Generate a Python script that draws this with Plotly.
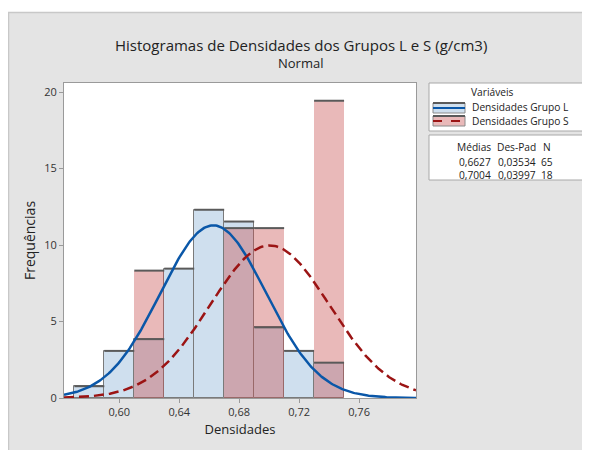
import plotly.graph_objects as go
import numpy as np

# ---- data ----
bin_centers = [0.58, 0.60, 0.62, 0.64, 0.66, 0.68, 0.70, 0.72, 0.74]
bin_width = 0.02
grupo_L = [0.77, 3.08, 3.85, 8.46, 12.31, 11.54, 4.62, 3.08, 2.31]
grupo_S = [0.0, 0.0, 8.33, 0.0, 0.0, 11.11, 11.11, 0.0, 19.44]
mean_L, sd_L, n_L = 0.6627, 0.03534, 65
mean_S, sd_S, n_S = 0.7004, 0.03997, 18
x_ticks = [0.60, 0.64, 0.68, 0.72, 0.76]
x_tick_labels = ["0,60", "0,64", "0,68", "0,72", "0,76"]
y_ticks = [0, 5, 10, 15, 20]

# ---- geometry (page has an 8px body margin) ----
OFF = 8
W, H = 590 - OFF, 450 - OFF
ML, MT = 64 - OFF, 83 - OFF
PW, PH = 352, 315
MR, MB = W - ML - PW, H - MT - PH
XR = [0.5631, 0.798]
YR = [0, 20.6]

def px(x):
    # x given in window pixels
    return (x - OFF - ML) / PW

def py(y):
    return 1 + (MT - (y - OFF)) / PH

BLUE_FILL = "#cfdfee"
RED_FILL = "rgba(200,80,80,0.40)"
BLUE_LINE = "#0a57a8"
RED_LINE = "#9b1414"
EDGE = "#5a5a5a"
FONT = "Open Sans"
LEG = 10.2

fig = go.Figure()

fig.add_trace(go.Bar(x=bin_centers, y=grupo_L, width=bin_width,
                     marker=dict(color=BLUE_FILL, line=dict(color="#7a7a7a", width=1)),
                     name="Densidades Grupo L", hoverinfo="skip"))
fig.add_trace(go.Bar(x=bin_centers, y=grupo_S, width=bin_width,
                     marker=dict(color=RED_FILL, line=dict(width=0)),
                     name="Densidades Grupo S", hoverinfo="skip"))

# top edges of bars
for vals in (grupo_L, grupo_S):
    tx, ty = [], []
    for c, v in zip(bin_centers, vals):
        if v > 0:
            tx += [c - bin_width / 2, c + bin_width / 2, None]
            ty += [v, v, None]
    fig.add_trace(go.Scatter(x=tx, y=ty, mode="lines",
                             line=dict(color=EDGE, width=2),
                             hoverinfo="skip", showlegend=False))

# fitted normal curves
xs = np.linspace(XR[0], XR[1], 300)

def normal_pdf(x, m, s):
    return np.exp(-0.5 * ((x - m) / s) ** 2) / (s * np.sqrt(2 * np.pi))

fig.add_trace(go.Scatter(x=xs, y=normal_pdf(xs, mean_L, sd_L), mode="lines",
                         line=dict(color=BLUE_LINE, width=2.5),
                         hoverinfo="skip", showlegend=False))
fig.add_trace(go.Scatter(x=xs, y=normal_pdf(xs, mean_S, sd_S), mode="lines",
                         line=dict(color=RED_LINE, width=2.5, dash="10px,5px"),
                         hoverinfo="skip", showlegend=False))

shapes = []
ann = []

# white strip at top of the gray panel and light border
shapes.append(dict(type="rect", xref="paper", yref="paper", x0=px(0), x1=px(600), y0=py(0), y1=py(12),
                   fillcolor="white", line=dict(width=0), layer="above"))
shapes.append(dict(type="line", xref="paper", yref="paper", x0=px(8), x1=px(600), y0=py(12.5), y1=py(12.5),
                   line=dict(color="#c8c8c8", width=1.5), layer="above"))
shapes.append(dict(type="line", xref="paper", yref="paper", x0=px(8.5), x1=px(8.5), y0=py(12.5), y1=py(460),
                   line=dict(color="#c8c8c8", width=1.5), layer="above"))

# legend boxes
shapes.append(dict(type="rect", xref="paper", yref="paper", x0=px(429), x1=px(583), y0=py(83), y1=py(131),
                   fillcolor="white", line=dict(color="#a8a8a8", width=1)))
shapes.append(dict(type="rect", xref="paper", yref="paper", x0=px(429), x1=px(583), y0=py(135), y1=py(180),
                   fillcolor="white", line=dict(color="#a8a8a8", width=1)))
# legend symbols
for (yc, fill, lc, dash) in ((108, BLUE_FILL, BLUE_LINE, "solid"), (121, "#e9b9b9", RED_LINE, "dash")):
    shapes.append(dict(type="rect", xref="paper", yref="paper", x0=px(433), x1=px(465), y0=py(yc - 5), y1=py(yc + 5),
                       fillcolor=fill, line=dict(color="#8a8a8a", width=1)))
    shapes.append(dict(type="line", xref="paper", yref="paper", x0=px(433), x1=px(465), y0=py(yc - 5), y1=py(yc - 5),
                       line=dict(color=EDGE, width=2)))
    shapes.append(dict(type="line", xref="paper", yref="paper", x0=px(433), x1=px(465), y0=py(yc), y1=py(yc),
                       line=dict(color=lc, width=2, dash=dash)))

def text(x, y, s, size=LEG, xanchor="left", color="#222"):
    ann.append(dict(x=px(x), y=py(y), xref="paper", yref="paper", text=s, showarrow=False,
                    xanchor=xanchor, yanchor="middle", font=dict(family=FONT, size=size, color=color)))

text(492, 92, "Variáveis", xanchor="center")
text(470, 107, "Densidades Grupo L")
text(470, 121, "Densidades Grupo S")
text(493, 147, "Médias", xanchor="right")
text(538, 147, "Des-Pad", xanchor="right")
text(553, 147, "N", xanchor="right")
for yy, m, s, n in ((162, mean_L, sd_L, n_L), (175, mean_S, sd_S, n_S)):
    text(493, yy, f"{m:.4f}".replace(".", ","), xanchor="right")
    text(538, yy, f"{s:.5f}".replace(".", ","), xanchor="right")
    text(555, yy, str(n), xanchor="right")

# titles
text(301, 45, "Histogramas de Densidades dos Grupos L e S (g/cm3)", size=15, xanchor="center")
text(300, 63, "Normal", size=13, xanchor="center")

fig.update_layout(
    width=W, height=H,
    margin=dict(l=ML, r=MR, t=MT, b=MB),
    paper_bgcolor="#e4e4e4", plot_bgcolor="white",
    barmode="overlay", bargap=0, showlegend=False,
    shapes=shapes, annotations=ann,
    font=dict(family=FONT, color="#222"),
    xaxis=dict(range=XR, tickvals=x_ticks, ticktext=x_tick_labels, showgrid=False, zeroline=False,
               showline=True, linecolor="#9a9a9a", linewidth=1, mirror=True,
               ticks="outside", ticklen=4, tickcolor="#9a9a9a", tickfont=dict(size=11, color="#333"),
               title=dict(text="Densidades", font=dict(size=13, color="#222"), standoff=6)),
    yaxis=dict(range=YR, tickvals=y_ticks, showgrid=False, zeroline=False,
               showline=True, linecolor="#9a9a9a", linewidth=1, mirror=True,
               ticks="outside", ticklen=4, tickcolor="#9a9a9a", tickfont=dict(size=11, color="#333"),
               title=dict(text="Frequências", font=dict(size=14, color="#222"), standoff=5)),
)

fig.write_html("out.html")
